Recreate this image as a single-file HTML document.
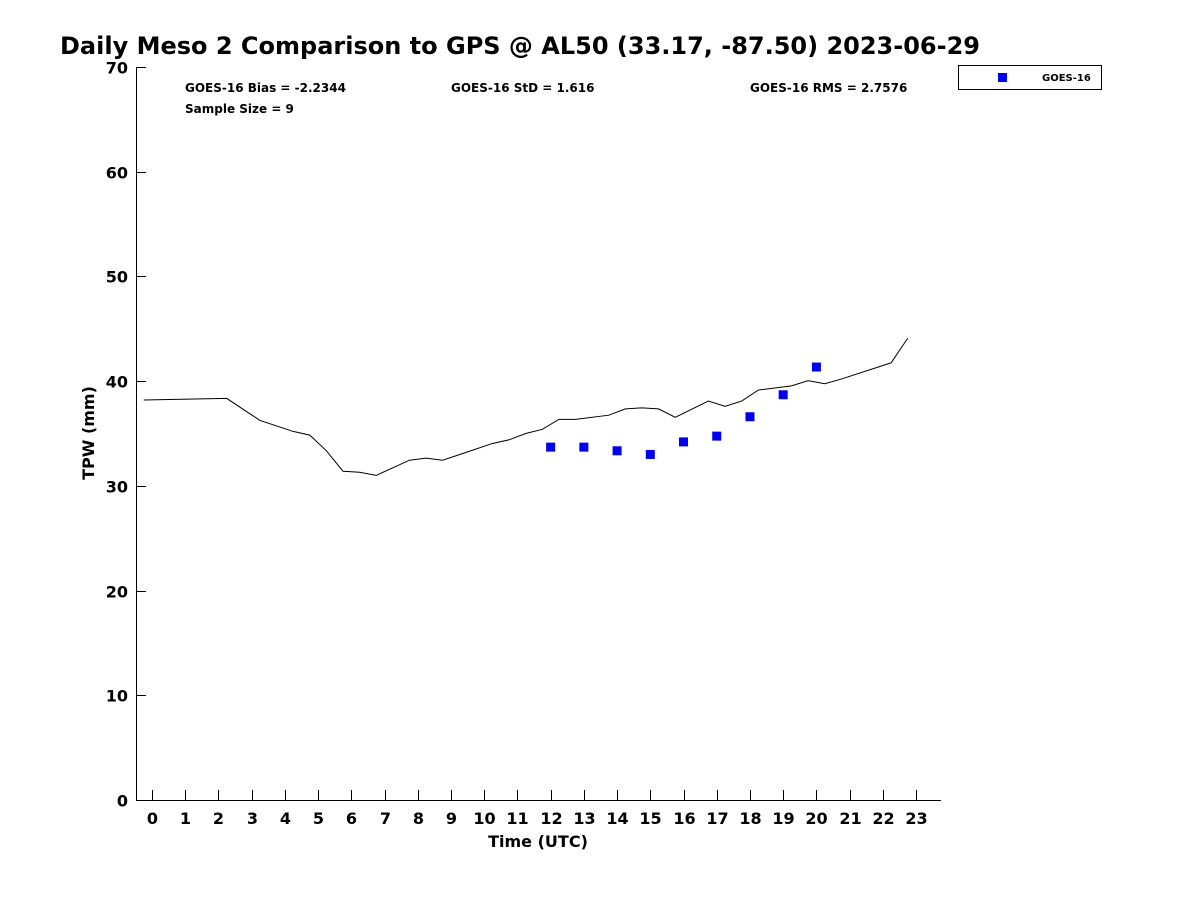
<!DOCTYPE html>
<html><head><meta charset="utf-8"><style>
body{margin:0;background:#fff;}
svg text{font-family:"DejaVu Sans","Liberation Sans",sans-serif;font-weight:bold;}
</style></head><body>
<svg id="chart" width="1200" height="900" xmlns="http://www.w3.org/2000/svg">
<text x="60" y="54" font-size="24">Daily Meso 2 Comparison to GPS @ AL50 (33.17, -87.50) 2023-06-29</text>
<g id="axes"></g>
<text x="185" y="92" font-size="12">GOES-16 Bias = -2.2344</text>
<text x="451" y="92" font-size="12">GOES-16 StD = 1.616</text>
<text x="750" y="92" font-size="12">GOES-16 RMS = 2.7576</text>
<text x="185" y="113" font-size="12">Sample Size = 9</text>
<text x="538" y="847" font-size="16" text-anchor="middle">Time (UTC)</text>
<text transform="translate(94,433) rotate(-90)" font-size="16" text-anchor="middle">TPW (mm)</text>
<g>
<rect x="958.5" y="65.5" width="143" height="24" fill="#fff" stroke="#000"/>
<rect x="998" y="73" width="9" height="9" fill="#0000ee"/>
<text x="1042" y="81" font-size="10">GOES-16</text>
</g>
</svg>
<script>
const gpsTimes=[-0.25,2.25,3.25,4.25,4.75,5.25,5.75,6.25,6.75,7.75,8.25,8.75,9.5,10.25,10.75,11.25,11.75,12.25,12.75,13.75,14.25,14.75,15.25,15.75,16.75,17.25,17.75,18.25,19.25,19.75,20.25,20.75,22.25,22.75];
const gpsValues=[38.2,38.35,36.25,35.2,34.85,33.35,31.4,31.3,31.0,32.45,32.65,32.45,33.25,34.05,34.4,35.0,35.4,36.35,36.35,36.75,37.35,37.45,37.35,36.55,38.1,37.6,38.1,39.15,39.55,40.05,39.75,40.2,41.75,44.1];
const goesTimes=[12,13,14,15,16,17,18,19,20];
const goesValues=[33.7,33.7,33.35,33.0,34.2,34.75,36.6,38.7,41.35];
const xTicks=[0,1,2,3,4,5,6,7,8,9,10,11,12,13,14,15,16,17,18,19,20,21,22,23];
const yTicks=[0,10,20,30,40,50,60,70];
const NS="http://www.w3.org/2000/svg";
const svg=document.getElementById('chart');
const axes=document.getElementById('axes');
const X=h=>152+(h)*33.22;
const Y=v=>800-v*10.471;
function mk(t,a){const e=document.createElementNS(NS,t);for(const k in a)e.setAttribute(k,a[k]);return e;}
const frame=mk('path',{d:'M136.5,67 V800.5 H941',stroke:'#000',fill:'none','stroke-width':1});


axes.appendChild(frame);
xTicks.forEach(t=>{
const x=Math.round(X(t))+0.5;
const l=mk('line',{x1:x,x2:x,y1:800,y2:790,stroke:'#000'});


axes.appendChild(l);
const tx=mk('text',{x:x,y:824,'font-size':16,'text-anchor':'middle'});
tx.textContent=t;


axes.appendChild(tx);
});
yTicks.forEach(t=>{
const y=Math.round(Y(t))+0.5;
const l=mk('line',{x1:136,x2:146,y1:y,y2:y,stroke:'#000'});


axes.appendChild(l);
const tx=mk('text',{x:128,y:y+6,'font-size':16,'text-anchor':'end'});
tx.textContent=t;


axes.appendChild(tx);
});
const pl=mk('polyline',{points:gpsTimes.map((t,i)=>X(t)+','+Y(gpsValues[i])).join(' '),fill:'none',stroke:'#000','stroke-width':1});


svg.appendChild(pl);
goesTimes.forEach((t,i)=>{
const r=mk('rect',{x:X(t)-4.5,y:Y(goesValues[i])-4.5,width:9,height:9,fill:'#0000ee'});


svg.appendChild(r);
});
</script>
</body></html>
